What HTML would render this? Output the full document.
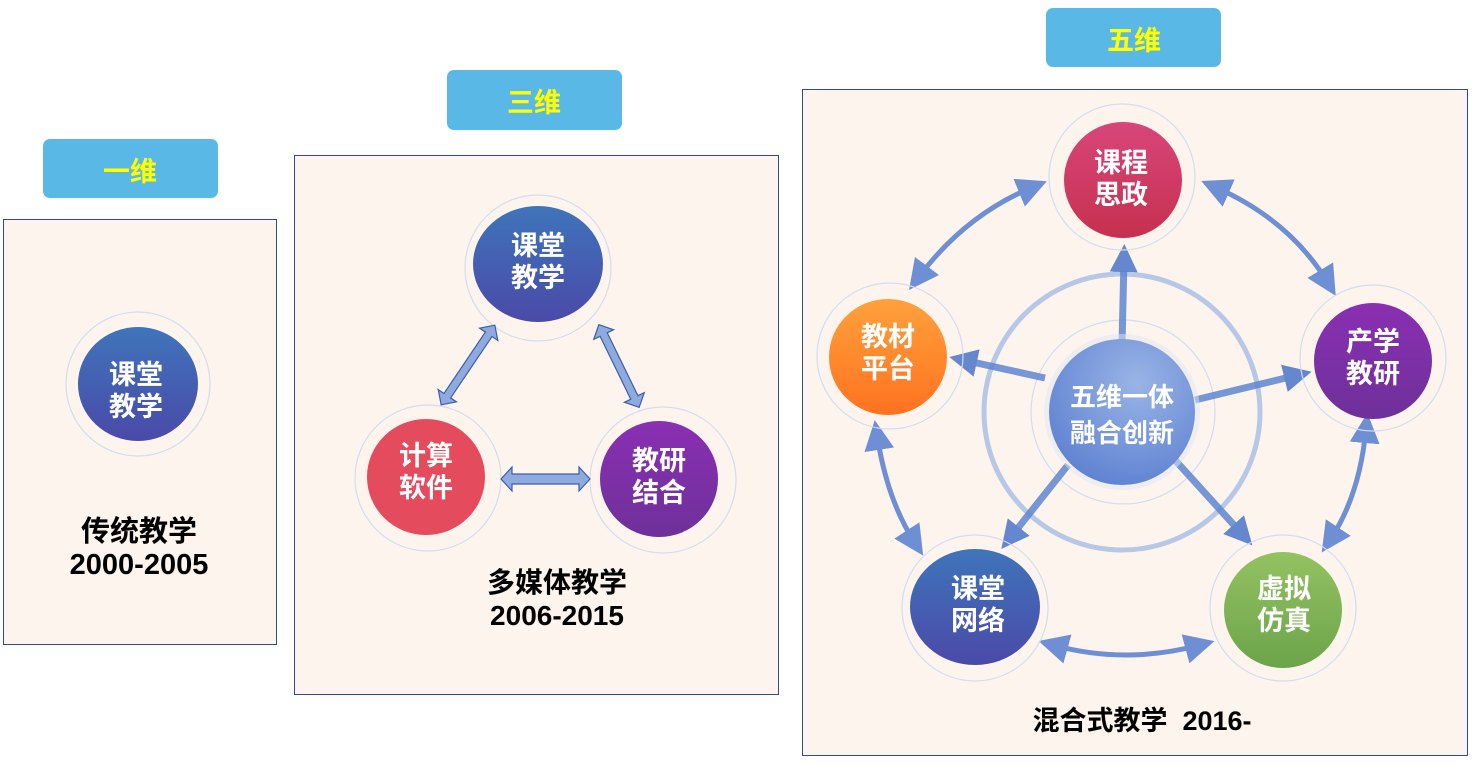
<!DOCTYPE html>
<html><head><meta charset="utf-8"><style>
body{margin:0;background:#fff;}
svg{display:block;font-family:"Liberation Sans","Noto Sans CJK SC",sans-serif;font-weight:bold;}
</style></head><body>
<svg width="1473" height="763" viewBox="0 0 1473 763">
<defs>
<linearGradient id="gb" x1="0" y1="0" x2="0" y2="1"><stop offset="0" stop-color="#3f74ba"/><stop offset="1" stop-color="#4a4aa8"/></linearGradient>
<linearGradient id="gp" x1="0" y1="0" x2="0" y2="1"><stop offset="0" stop-color="#8a2fb2"/><stop offset="1" stop-color="#6e309a"/></linearGradient>
<linearGradient id="gc" x1="0" y1="0" x2="0" y2="1"><stop offset="0" stop-color="#d8467a"/><stop offset="1" stop-color="#c6304f"/></linearGradient>
<linearGradient id="go" x1="0" y1="0" x2="0" y2="1"><stop offset="0" stop-color="#ffa13c"/><stop offset="1" stop-color="#ff7220"/></linearGradient>
<linearGradient id="gg" x1="0" y1="0" x2="0" y2="1"><stop offset="0" stop-color="#93c262"/><stop offset="1" stop-color="#6ca44a"/></linearGradient>
<radialGradient id="gm" cx="0.6" cy="0.3" r="0.8"><stop offset="0" stop-color="#9ab4e6"/><stop offset="1" stop-color="#5a7ed0"/></radialGradient>
<marker id="ah" markerWidth="6" markerHeight="6" refX="3" refY="3" orient="auto-start-reverse" markerUnits="strokeWidth"><path d="M0,0 L6,3 L0,6 Z" fill="#6f8fd4"/></marker>
<marker id="ah2" markerWidth="4" markerHeight="4" refX="2" refY="2" orient="auto" markerUnits="strokeWidth"><path d="M0,0 L4,2 L0,4 Z" fill="#4a74c8"/></marker>
</defs>

<rect x="3.5" y="219.5" width="273" height="425" fill="#fdf4ee" stroke="#2e4a9a"/>
<rect x="43" y="139" width="175" height="59" rx="7" fill="#5ab8e6"/>
<text x="130" y="181" font-size="27" fill="#ffff00" text-anchor="middle">一维</text>
<circle cx="138" cy="384" r="72" fill="none" stroke="#d3dcf1" stroke-width="1.2"/>
<ellipse cx="138" cy="384" rx="60" ry="57" fill="url(#gb)"/>
<text x="136" y="384" font-size="27" fill="#fff" text-anchor="middle">课堂</text>
<text x="136" y="416" font-size="27" fill="#fff" text-anchor="middle">教学</text>
<text x="139" y="541" font-size="29" fill="#000" text-anchor="middle">传统教学</text>
<text x="139" y="574" font-size="29" fill="#000" text-anchor="middle">2000-2005</text>

<rect x="294.5" y="155.5" width="484" height="539" fill="#fdf4ee" stroke="#2e4a9a"/>
<rect x="447" y="70" width="175" height="60" rx="7" fill="#5ab8e6"/>
<text x="534" y="112" font-size="27" fill="#ffff00" text-anchor="middle">三维</text>
<circle cx="538" cy="268" r="73" fill="none" stroke="#d3dcf1" stroke-width="1.2"/>
<ellipse cx="538" cy="264" rx="65" ry="58" fill="url(#gb)"/>
<text x="538" y="255" font-size="27" fill="#fff" text-anchor="middle">课堂</text>
<text x="538" y="287" font-size="27" fill="#fff" text-anchor="middle">教学</text>
<circle cx="428" cy="478" r="73" fill="none" stroke="#d3dcf1" stroke-width="1.2"/>
<ellipse cx="426" cy="477" rx="59" ry="58" fill="#e44c5e"/>
<text x="426" y="465" font-size="27" fill="#fff" text-anchor="middle">计算</text>
<text x="426" y="497" font-size="27" fill="#fff" text-anchor="middle">软件</text>
<circle cx="663" cy="480" r="73" fill="none" stroke="#d3dcf1" stroke-width="1.2"/>
<ellipse cx="659" cy="479" rx="59" ry="58" fill="url(#gp)"/>
<text x="659" y="470" font-size="27" fill="#fff" text-anchor="middle">教研</text>
<text x="659" y="502" font-size="27" fill="#fff" text-anchor="middle">结合</text>
<g fill="#8eaadf" stroke="#3c5ea8" stroke-width="1.2">
<path d="M501,479 L512,467 L512,474 L579,474 L579,467 L590,479 L579,491 L579,484 L512,484 L512,491 Z"/>
<g transform="translate(468,365) rotate(-56)"><path d="M-48,0 L-37,-11 L-37,-4 L37,-4 L37,-11 L48,0 L37,11 L37,4 L-37,4 L-37,11 Z"/></g>
<g transform="translate(619,366) rotate(64)"><path d="M-46,0 L-35,-11 L-35,-4 L35,-4 L35,-11 L46,0 L35,11 L35,4 L-35,4 L-35,11 Z"/></g>
</g>
<text x="557" y="592" font-size="28" fill="#000" text-anchor="middle">多媒体教学</text>
<text x="557" y="625" font-size="28" fill="#000" text-anchor="middle">2006-2015</text>

<rect x="802.5" y="89.5" width="665" height="666" fill="#fdf4ee" stroke="#2e4a9a"/>
<rect x="1046" y="8" width="175" height="59" rx="7" fill="#5ab8e6"/>
<text x="1134" y="50" font-size="27" fill="#ffff00" text-anchor="middle">五维</text>

<circle cx="1122" cy="412" r="138" fill="none" stroke="#b7c7e6" stroke-width="5"/>
<circle cx="1123" cy="412" r="92" fill="none" stroke="#d3dcf1" stroke-width="1.2"/>

<g fill="none" stroke="#6f8fd4" stroke-width="5">
<path d="M918,278 Q965,215 1033,187" marker-start="url(#ah)" marker-end="url(#ah)"/>
<path d="M1215,187 Q1290,220 1328,283" marker-start="url(#ah)" marker-end="url(#ah)"/>
<path d="M1366,428 Q1360,495 1330,540" marker-start="url(#ah)" marker-end="url(#ah)"/>
<path d="M1053,645 Q1125,665 1200,645" marker-start="url(#ah)" marker-end="url(#ah)"/>
<path d="M877,435 Q887,500 915,543" marker-start="url(#ah)" marker-end="url(#ah)"/>
</g>
<g stroke="#5f86d2" stroke-width="7" fill="none" opacity="0.85">
<path d="M1122,345 L1124,258" marker-end="url(#ah2)"/>
<path d="M1045,378 L963,360" marker-end="url(#ah2)"/>
<path d="M1195,400 L1298,375" marker-end="url(#ah2)"/>
<path d="M1068,465 L1010,538" marker-end="url(#ah2)"/>
<path d="M1175,460 L1243,535" marker-end="url(#ah2)"/>
</g>

<circle cx="1122" cy="412" r="78" fill="#dfe6f6" opacity="0.5"/>
<circle cx="1122" cy="412" r="73" fill="url(#gm)"/>
<text x="1122" y="406" font-size="26" fill="#fff" text-anchor="middle">五维一体</text>
<text x="1122" y="442" font-size="26" fill="#fff" text-anchor="middle">融合创新</text>

<circle cx="1122" cy="177" r="73" fill="none" stroke="#d3dcf1" stroke-width="1.2"/>
<ellipse cx="1123" cy="180" rx="59" ry="58" fill="url(#gc)"/>
<text x="1121" y="172" font-size="27" fill="#fff" text-anchor="middle">课程</text>
<text x="1121" y="204" font-size="27" fill="#fff" text-anchor="middle">思政</text>

<circle cx="890" cy="356" r="73" fill="none" stroke="#d3dcf1" stroke-width="1.2"/>
<ellipse cx="888" cy="357" rx="59" ry="58" fill="url(#go)"/>
<text x="888" y="346" font-size="27" fill="#fff" text-anchor="middle">教材</text>
<text x="888" y="378" font-size="27" fill="#fff" text-anchor="middle">平台</text>

<circle cx="1373" cy="358" r="73" fill="none" stroke="#d3dcf1" stroke-width="1.2"/>
<ellipse cx="1373" cy="361" rx="59" ry="58" fill="url(#gp)"/>
<text x="1373" y="351" font-size="27" fill="#fff" text-anchor="middle">产学</text>
<text x="1373" y="383" font-size="27" fill="#fff" text-anchor="middle">教研</text>

<circle cx="975" cy="608" r="73" fill="none" stroke="#d3dcf1" stroke-width="1.2"/>
<ellipse cx="975" cy="607" rx="65" ry="58" fill="url(#gb)"/>
<text x="978" y="598" font-size="27" fill="#fff" text-anchor="middle">课堂</text>
<text x="978" y="630" font-size="27" fill="#fff" text-anchor="middle">网络</text>

<circle cx="1283" cy="608" r="73" fill="none" stroke="#d3dcf1" stroke-width="1.2"/>
<ellipse cx="1283" cy="610" rx="59" ry="58" fill="url(#gg)"/>
<text x="1284" y="598" font-size="27" fill="#fff" text-anchor="middle">虚拟</text>
<text x="1284" y="630" font-size="27" fill="#fff" text-anchor="middle">仿真</text>

<text x="1142" y="730" font-size="27" fill="#000" text-anchor="middle" xml:space="preserve">混合式教学  2016-</text>
</svg>
</body></html>
